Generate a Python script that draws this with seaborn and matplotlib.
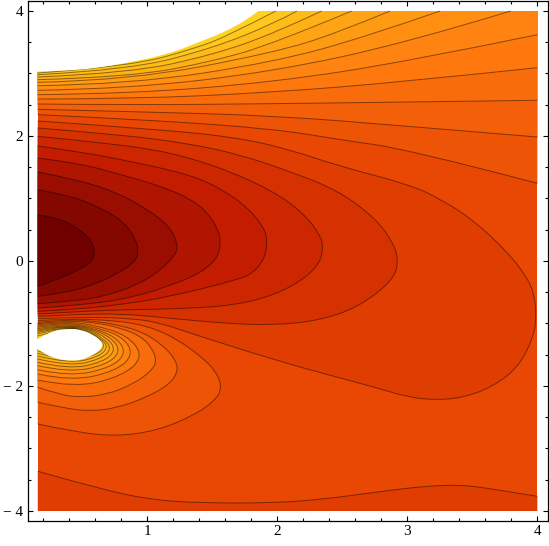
import matplotlib
matplotlib.use("Agg")
import matplotlib.pyplot as plt
from matplotlib.path import Path
from matplotlib.patches import PathPatch
import numpy as np
import seaborn as sns

# curves, data units
# closed arcs round the dark centre, both ends on the left edge
c1_x = [.157, .313, .441, .544, .585, .597, .57, .492, .338, .157]
c1_y = [.741, .688, .555, .395, .25, .128, -.02, -.12, -.272, -.406]
c2_x = [.157, .415, .672, .826, .915, .933, .9, .8, .595, .364, .157]
c2_y = [1.141, 1.045, .821, .608, .341, .128, -.02, -.166, -.379, -.512, -.566]
c3_x = [.157, .467, .774, 1.005, 1.172, 1.236, 1.218, 1.108, .928, .672, .415, .157]
c3_y = [1.424, 1.301, 1.088, .821, .555, .261, .101, -.139, -.379, -.566, -.646, -.683]
c4_x = [.157, .467, .8, 1.108, 1.328, 1.456, 1.546, 1.564, 1.546, 1.456, 1.328, 1.185, .928, .544, .157]
c4_y = [1.648, 1.568, 1.381, 1.194, .997, .795, .501, .315, .075, -.12, -.27, -.379, -.566, -.699, -.752]
c5_x = [.157, .544, .928, 1.328, 1.584, 1.79, 1.905, 1.923, 1.905, 1.815, 1.697, 1.185, .8, .415, .157]
c5_y = [1.84, 1.728, 1.568, 1.381, 1.141, .821, .501, .315, .048, -.192, -.3, -.566, -.699, -.779, -.806]
c6_x = [.157, .672, 1.056, 1.328, 1.636, 1.969, 2.2, 2.328, 2.354, 2.328, 2.2, 1.982, 1.697, 1.313, .8, .415, .157]
c6_y = [1.995, 1.888, 1.781, 1.648, 1.434, 1.115, .768, .421, .234, -.032, -.299, -.539, -.699, -.763, -.779, -.816, -.848]
c7_x = [.157, .8, 1.328, 1.713, 2.097, 2.482, 2.764, 2.892, 2.931, 2.897, 2.623, 2.315, 1.982, 1.662, 1.185, .8, .415, .157]
c7_y = [2.128, 2.021, 1.877, 1.701, 1.434, 1.115, .661, .288, .021, -.299, -.741, -.955, -1.024, -1.008, -.92, -.84, -.859, -.886]
c8_x = [.157, 1.133, 1.713, 2.097, 2.482, 3.02, 3.264, 3.52, 3.777, 3.905, 3.97, 3.995, 3.97, 3.854, 3.65, 3.418, 3.213,
        3.008, 2.751, 2.367, 1.982, 1.364, 1.097, .892, .5, .157]
c8_y = [2.24, 2.101, 1.968, 1.781, 1.514, 1.221, .981, .635, .128, -.219, -.475, -.875, -1.221, -1.701, -2.021, -2.192, -2.224,
        -2.181, -2.021, -1.808, -1.584, -1.179, -.99, -.92, -.895, -.923]

# same level as c8, along the bottom
low_x = [.157, .636, 1.02, 1.405, 1.982, 2.367, 2.751, 3.008, 3.213, 3.392, 3.572, 3.777, 4.0]
low_y = [-3.365, -3.648, -3.819, -3.872, -3.872, -3.808, -3.701, -3.632, -3.595, -3.584, -3.621, -3.691, -3.765]

# upper family, left edge to right or top edge
u9_x = [.157, 1.0, 1.982, 2.482, 3.02, 4.0]
u9_y = [2.341, 2.261, 2.112, 1.941, 1.781, 1.243]
u10_x = [.157, 1.0, 1.982, 3.008, 4.0]
u10_y = [2.427, 2.384, 2.325, 2.155, 1.984]
u11_x = [.157, .867, 1.982, 3.008, 4.0]
u11_y = [2.512, 2.496, 2.517, 2.544, 2.571]
u12_x = [.157, .867, 1.982, 3.008, 4.0]
u12_y = [2.592, 2.592, 2.699, 2.875, 3.093]
u13_x = [.157, .867, 1.982, 3.008, 4.0]
u13_y = [2.661, 2.677, 2.864, 3.195, 3.621]
u14_x = [.157, .867, 1.982, 3.008, 3.795]
u14_y = [2.731, 2.757, 3.035, 3.5, 4.0]
u15_x = [.157, .867, 1.982, 2.7, 3.251]
u15_y = [2.805, 2.827, 3.184, 3.6, 4.0]
u16_x = [.157, .867, 1.982, 2.45, 2.867]
u16_y = [2.859, 2.891, 3.339, 3.64, 4.0]
u17_x = [.157, .867, 1.508, 1.982, 2.572]
u17_y = [2.901, 2.944, 3.195, 3.488, 4.0]
u18_x = [.157, .867, 1.508, 1.982, 2.341]
u18_y = [2.944, 3.008, 3.301, 3.648, 4.0]
u19_x = [.157, .867, 1.508, 1.982, 2.151]
u19_y = [2.981, 3.061, 3.408, 3.808, 4.0]
u20_x = [.157, .867, 1.38, 1.636, 1.988]
u20_y = [3.008, 3.115, 3.408, 3.621, 4.0]

# lobes round the hole, left edge below it to left edge above it
h9_x = [.157, .456, .764, 1.072, 1.354, 1.521, 1.575, 1.525, 1.405, 1.226, 1.02, .76, .379, .157]
h9_y = [-2.608, -2.741, -2.805, -2.715, -2.475, -2.235, -2.021, -1.755, -1.515, -1.248, -1.05, -.95, -.923, -.955]
h10_x = [.157, .354, .559, .764, .995, 1.174, 1.238, 1.213, 1.123, .969, .79, .585, .379, .157]
h10_y = [-2.261, -2.352, -2.405, -2.352, -2.181, -1.968, -1.755, -1.568, -1.355, -1.141, -1.03, -.96, -.939, -.982]
h11_x = [.157, .328, .482, .687, .892, 1.033, 1.072, 1.033, .944, .79, .61, .379, .157]
h11_y = [-2.021, -2.139, -2.181, -2.139, -1.968, -1.755, -1.595, -1.381, -1.195, -1.07, -.99, -.955, -1.0]
h12_x = [.157, .444, .815, .969, .854, .585, .379, .157]
h12_y = [-1.904, -2.032, -1.835, -1.531, -1.195, -1.02, -.971, -1.02]
h13_x = [.157, .418, .764, .897, .803, .559, .379, .157]
h13_y = [-1.808, -1.925, -1.755, -1.488, -1.195, -1.04, -.987, -1.04]
h14_x = [.157, .405, .726, .841, .751, .559, .379, .157]
h14_y = [-1.739, -1.851, -1.701, -1.461, -1.205, -1.06, -1.003, -1.06]
h15_x = [.157, .4, .687, .797, .721, .559, .379, .157]
h15_y = [-1.675, -1.787, -1.659, -1.445, -1.221, -1.075, -1.019, -1.08]
h16_x = [.157, .4, .662, .759, .692, .546, .379, .157]
h16_y = [-1.621, -1.733, -1.616, -1.424, -1.232, -1.085, -1.03, -1.1]
h17_x = [.157, .4, .636, .728, .662, .533, .379, .157]
h17_y = [-1.568, -1.685, -1.573, -1.408, -1.237, -1.095, -1.04, -1.12]
h18_x = [.157, .4, .623, .7, .641, .52, .379, .157]
h18_y = [-1.52, -1.643, -1.536, -1.381, -1.237, -1.1, -1.051, -1.14]
h19_x = [.157, .4, .61, .677, .626, .5, .379, .157]
h19_y = [-1.477, -1.605, -1.504, -1.365, -1.243, -1.1, -1.061, -1.165]
h20_x = [.157, .4, .6, .664, .61, .48, .379, .157]
h20_y = [-1.44, -1.59, -1.49, -1.34, -1.2, -1.095, -1.072, -1.2]

# white areas: above the top boundary, and the hole
top_x = [.157, .354, .534, .738, .867, .995, 1.123, 1.252, 1.38, 1.508, 1.636, 1.765, 1.854]
top_y = [3.03, 3.045, 3.07, 3.13, 3.184, 3.232, 3.3, 3.38, 3.49, 3.59, 3.71, 3.86, 4.0]
hole_x = [.157, .25, .379, .5, .59, .64, .66, .64, .58, .5, .41, .3, .22, .157]
hole_y = [-1.248, -1.13, -1.08, -1.1, -1.19, -1.27, -1.339, -1.42, -1.51, -1.58, -1.6, -1.565, -1.5, -1.408]

x_major = [1, 2, 3, 4]
x_minor = [.2, .4, .6, .8, 1.2, 1.4, 1.6, 1.8, 2.2, 2.4, 2.6, 2.8, 3.2, 3.4, 3.6, 3.8]
y_major = [-4, -2, 0, 2, 4]
y_minor = [-3.5, -3, -2.5, -1.5, -1, -.5, .5, 1, 1.5, 2.5, 3, 3.5]
y_labels = ["\u2212 4", "\u2212 2", "0", "2", "4"]


def curve(x, y, end_x=(), end_y=()):
    # quadratic spline on the read points, hand reading noise does not show as wiggles
    p = np.column_stack([x, y])
    verts = [p[0]]
    codes = [Path.MOVETO]
    for i in range(1, len(p) - 1):
        stop = p[-1] if i == len(p) - 2 else (p[i] + p[i + 1]) / 2
        verts += [p[i], stop]
        codes += [Path.CURVE3, Path.CURVE3]
    for ex, ey in zip(end_x, end_y):
        verts.append((ex, ey))
        codes.append(Path.LINETO)
    return Path(verts, codes)


def band(x, y, color, end_x=(), end_y=(), z=1):
    ax.add_patch(PathPatch(curve(x, y, end_x, end_y), fc=color, ec="none", lw=0, zorder=z))


def line(x, y):
    ax.add_patch(PathPatch(curve(x, y), fc="none", ec="black", alpha=.45, lw=.7, zorder=3))


sns.set_style("white")
plt.rcParams["font.family"] = ["Liberation Serif", "DejaVu Serif"]

pal = sns.blend_palette(["#700000", "#c41c00", "#e84803", "#fe780e", "#ffa414", "#ffd220"], 21)

fig = plt.figure(figsize=(5.49, 5.46), dpi=100)
ax = fig.add_axes([27.5 / 549, 24.7 / 546, 520.5 / 549, 520.8 / 546])

arcs = [(c8_x, c8_y), (c7_x, c7_y), (c6_x, c6_y), (c5_x, c5_y), (c4_x, c4_y), (c3_x, c3_y), (c2_x, c2_y), (c1_x, c1_y)]
upper = [(u9_x, u9_y), (u10_x, u10_y), (u11_x, u11_y), (u12_x, u12_y), (u13_x, u13_y), (u14_x, u14_y),
         (u15_x, u15_y), (u16_x, u16_y), (u17_x, u17_y), (u18_x, u18_y), (u19_x, u19_y), (u20_x, u20_y)]
lobes = [(h9_x, h9_y), (h10_x, h10_y), (h11_x, h11_y), (h12_x, h12_y), (h13_x, h13_y), (h14_x, h14_y),
         (h15_x, h15_y), (h16_x, h16_y), (h17_x, h17_y), (h18_x, h18_y), (h19_x, h19_y), (h20_x, h20_y)]

# painted back to front, each band on top of the one outside it
ax.fill([.157, 4, 4, .157], [-4, -4, 4, 4], color=pal[8], lw=0)
for i, (x, y) in enumerate(arcs):
    band(x, y, pal[7 - i])
band(low_x, low_y, pal[7], [4, .157], [-4, -4])
for i, (x, y) in enumerate(upper):
    band(x, y, pal[9 + i], [4, .157], [4, 4])
for i, (x, y) in enumerate(lobes):
    band(x, y, pal[9 + i])

for x, y in arcs + upper + lobes + [(low_x, low_y)]:
    line(x, y)

band(top_x, top_y, "white", [1.854, .15, .15], [4.02, 4.02, 3.03], z=5)
band(hole_x, hole_y, "white", [.15, .15], [-1.408, -1.248], z=5)

ax.set_xlim(.078, 4.082)
ax.set_ylim(-4.165, 4.168)
ax.set_xticks(x_major)
ax.set_xticks(x_minor, minor=True)
ax.set_yticks(y_major, y_labels)
ax.set_yticks(y_minor, minor=True)
ax.tick_params(which="major", direction="in", length=3.6, width=.8, top=True, right=True, left=True, bottom=True,
               labelsize=11, pad=3, color="black", labelcolor="black")
ax.tick_params(which="minor", direction="in", length=2.2, width=.8, top=True, right=True, left=True, bottom=True,
               color="black")
for s in ax.spines.values():
    s.set_visible(True)
    s.set_color("black")
    s.set_linewidth(.9)
    s.set_zorder(6)

fig.savefig("out.png", dpi=100)
